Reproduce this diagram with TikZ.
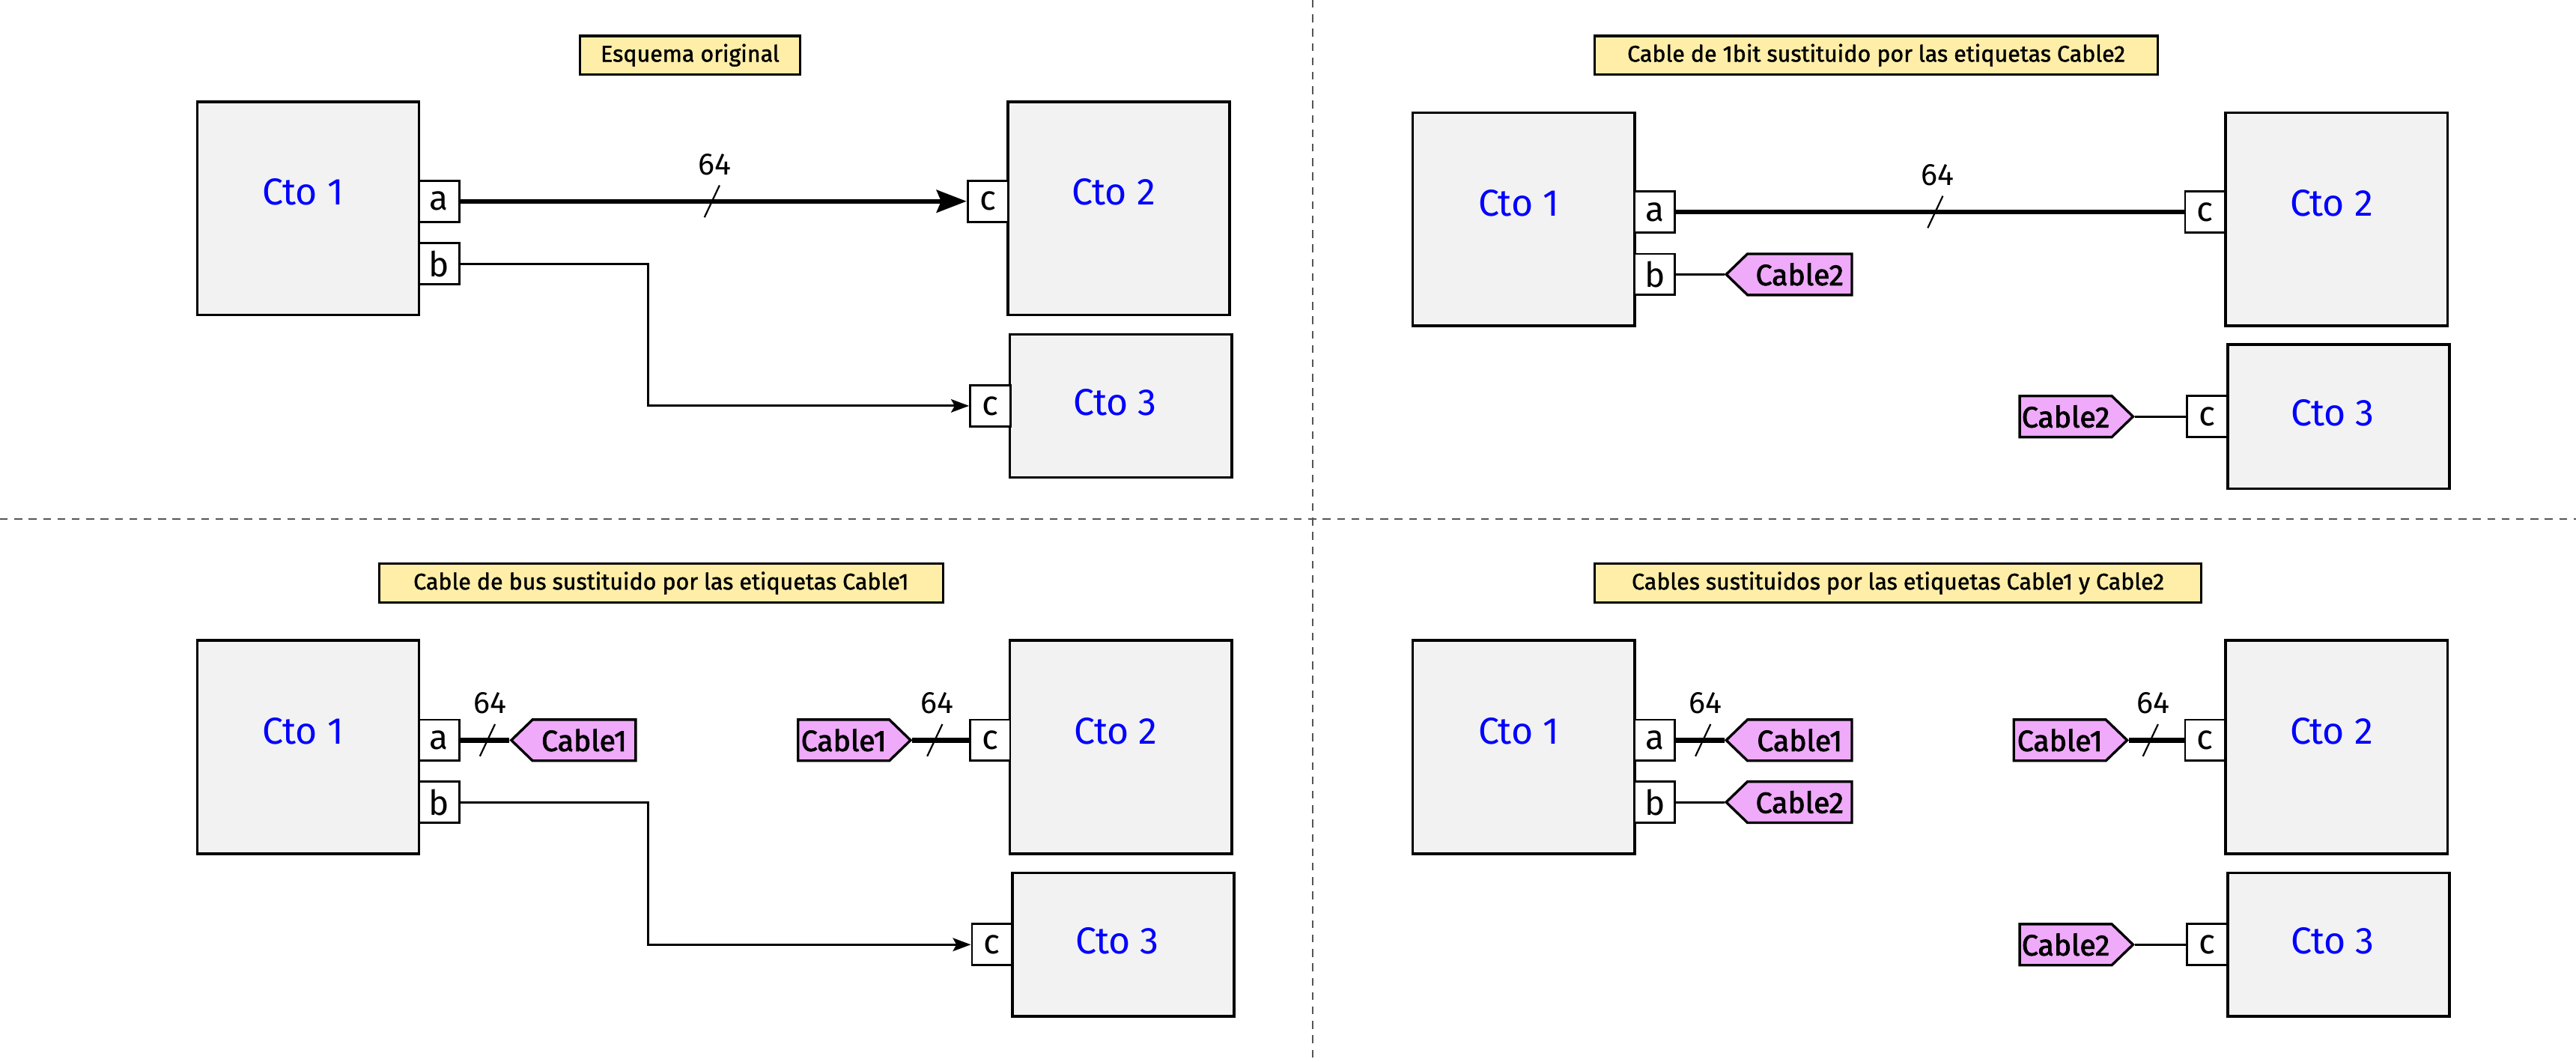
\documentclass[tikz,border=0pt]{standalone}
\usepackage{fontspec}
\setmainfont{Fira Sans}
\newfontfamily\medfont[FakeBold=1.4]{Fira Sans}
\newfontfamily\tagfont[FakeBold=2.2]{Fira Sans}
\usetikzlibrary{arrows.meta,shapes.symbols}
\definecolor{ctogray}{HTML}{F2F2F2}
\definecolor{ctoblue}{HTML}{0000FF}
\definecolor{titlefill}{HTML}{FFEEA8}
\definecolor{tagfill}{HTML}{EFAAFA}
\definecolor{divgray}{HTML}{555555}
\newcommand{\dd}{0.548469pt}
\newcommand{\busmark}[3]{%
  \draw[slashline] (#2-4.6,#3+9.75) -- (#2+4.6,#3-9.75);
  \node[buslbl] (#1) at (#2+1.5,#3-22.5) {64};}
\tikzset{
  ctobox/.style={draw, fill=ctogray, line width=0.85pt, minimum width=135*\dd, minimum height=129.6*\dd, inner sep=0pt},
  ctoshort/.style={ctobox, minimum height=87*\dd},
  ctolbl/.style={text=ctoblue, font=\fontsize{12.5}{14}\selectfont, inner sep=0pt},
  tall/.style={label={[ctolbl, yshift=9.75*\dd, xshift=-3*\dd]center:#1}},
  short/.style={label={[ctolbl, yshift=2.3*\dd, xshift=-3.5*\dd]center:#1}},
  port/.style={draw, fill=white, line width=0.7pt, minimum width=24.5*\dd, minimum height=25*\dd, inner sep=0pt, font=\fontsize{11.5}{12}\selectfont},
  titlebox/.style={draw, fill=titlefill, line width=0.85pt, minimum height=23.6*\dd, inner sep=0pt, font=\medfont\fontsize{7.6}{9}\selectfont},
  tagbase/.style={signal, draw, fill=tagfill, line width=0.85pt, minimum height=25*\dd, inner sep=0pt, signal pointer angle=88, font=\tagfont\fontsize{9.8}{10}\selectfont},
  tagL/.style={tagbase, signal to=west, signal from=nowhere, minimum width=76.5*\dd},
  tagR/.style={tagbase, signal to=east, signal from=nowhere, minimum width=69*\dd},
  bus/.style={line width=1.6pt},
  wire/.style={line width=0.75pt},
  bigtip/.style={-{Stealth[length=10pt,width=7.5pt,inset=1.5pt]}},
  smalltip/.style={-{Stealth[length=6pt,width=4.4pt,inset=1.2pt]}},
  slashline/.style={line width=0.55pt},
  buslbl/.style={font=\fontsize{10.3}{11}\selectfont, inner sep=0pt},
  divider/.style={draw=divgray, line width=0.6pt, dash pattern=on 2.6pt off 2.2pt}
}
\begin{document}
\begin{tikzpicture}[x=0.548469pt,y=-0.548469pt]
\useasboundingbox (0,0) rectangle (1568,646.34);
% dividers
\draw[divider] (799,0) -- (799,646.34);
\draw[divider] (0,316) -- (1568,316);

% ===== panel 1: top left =====
\node[titlebox, minimum width=134*\dd] (t1) at (420,33.6) {Esquema original};
\node[ctobox, tall=Cto 1] (A1) at (187.5,126.75) {};
\node[port] (A1a) at (267.25,122.5) {a};
\node[port] (A1b) at (267.25,160.5) {b};
\node[ctobox, tall=Cto 2] (A2) at (681,126.75) {};
\node[port] (A2c) at (601.25,122.5) {c};
\node[ctoshort, short=Cto 3] (A3) at (682.25,247) {};
\node[port] (A3c) at (602.75,247) {c};
\draw[bus, bigtip] (A1a.east) -- (A2c.west);
\busmark{A64}{433.4}{122.5}
\coordinate (A1k) at (394.5,160.5);
\draw[wire, smalltip] (A1b.east) -- (A1k) |- (A3c.west);

% ===== panel 2: top right =====
\node[titlebox, minimum width=342.8*\dd] (t2) at (1142.1,33.6) {Cable de 1bit sustituido por las etiquetas Cable2};
\node[ctobox, tall=Cto 1] (B1) at (927.5,133.45) {};
\node[port] (B1a) at (1007.25,129) {a};
\node[port] (B1b) at (1007.25,167) {b};
\node[ctobox, tall=Cto 2] (B2) at (1422.2,133.45) {};
\node[port] (B2c) at (1342.3,129) {c};
\node[ctoshort, minimum height=87.6*\dd, short=Cto 3] (B3) at (1423.5,253.5) {};
\node[port] (B3c) at (1343.5,253.5) {c};
\draw[bus] (B1a.east) -- (B2c.west);
\busmark{B64}{1178}{129}
\node[tagL, anchor=east] (B1t) at (1128,167) {Cable2};
\draw[wire] (B1b.east) -- (B1t.west);
\node[tagR, anchor=west] (B3t) at (1228.6,253.5) {Cable2};
\draw[wire] (B3t.east) -- (B3c.west);

% ===== panel 3: bottom left =====
\node[titlebox, minimum width=343.2*\dd] (t3) at (402.4,354.85) {Cable de bus sustituido por las etiquetas Cable1};
\node[ctobox, minimum height=130*\dd, tall=Cto 1] (C1) at (187.5,454.65) {};
\node[port] (C1a) at (267.25,450.5) {a};
\node[port] (C1b) at (267.25,488.2) {b};
\node[tagL, minimum width=75.7*\dd, anchor=east] (C1t) at (387.7,450.5) {Cable1};
\draw[bus] (C1a.east) -- (C1t.west);
\busmark{C64a}{296.7}{450.5}
\node[ctobox, minimum height=130*\dd, tall=Cto 2] (C2) at (682.25,454.65) {};
\node[port] (C2c) at (602.65,450.5) {c};
\node[tagR, minimum width=68.5*\dd, anchor=west] (C2t) at (485,450.5) {Cable1};
\draw[bus] (C2t.east) -- (C2c.west);
\busmark{C64b}{569}{450.5}
\node[ctoshort, minimum height=87.2*\dd, short=Cto 3] (C3) at (683.7,574.9) {};
\node[port] (C3c) at (603.85,574.9) {c};
\coordinate (C1k) at (394.5,488.2);
\draw[wire, smalltip] (C1b.east) -- (C1k) |- (C3c.west);

% ===== panel 4: bottom right =====
\node[titlebox, minimum width=369.2*\dd] (t4) at (1155.3,354.85) {Cables sustituidos por las etiquetas Cable1 y Cable2};
\node[ctobox, minimum height=130*\dd, tall=Cto 1] (D1) at (927.5,454.65) {};
\node[port] (D1a) at (1007.25,450.5) {a};
\node[port] (D1b) at (1007.25,488.2) {b};
\node[tagL, anchor=east] (D1t) at (1128,450.5) {Cable1};
\draw[bus] (D1a.east) -- (D1t.west);
\busmark{D64a}{1036.6}{450.5}
\node[tagL, anchor=east] (D1u) at (1128,488.2) {Cable2};
\draw[wire] (D1b.east) -- (D1u.west);
\node[ctobox, minimum height=130*\dd, tall=Cto 2] (D2) at (1422.2,454.65) {};
\node[port] (D2c) at (1342.3,450.5) {c};
\node[tagR, anchor=west] (D2t) at (1225,450.5) {Cable1};
\draw[bus] (D2t.east) -- (D2c.west);
\busmark{D64b}{1309}{450.5}
\node[ctoshort, minimum height=87.2*\dd, short=Cto 3] (D3) at (1423.5,574.9) {};
\node[port] (D3c) at (1343.3,574.9) {c};
\node[tagR, anchor=west] (D3t) at (1228.6,574.9) {Cable2};
\draw[wire] (D3t.east) -- (D3c.west);
\end{tikzpicture}
\end{document}
